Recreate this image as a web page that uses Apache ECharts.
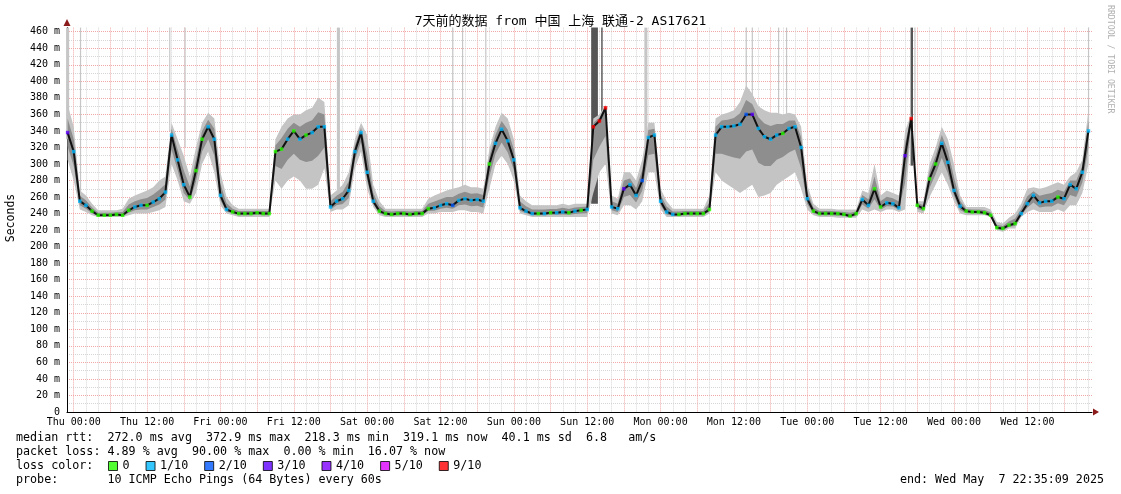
<!DOCTYPE html>
<html><head><meta charset="utf-8">
<script src="https://cdn.jsdelivr.net/npm/echarts@6/dist/echarts.min.js"></script>
<style>html,body{margin:0;padding:0;background:#fff}#c{width:1121px;height:494px}</style>
</head><body><div id="c"></div>
<script>
// hours relative to Thu 00:00 (May 1 2025); first sample at -1h
const firstHour = -1;
const median = [
338,315,255,250,243,238,238,238,239,238,244,
248,250,250,254,258,266,335,305,275,260,
292,330,345,330,262,245,242,240,240,240,
241,240,240,315,318,330,340,330,335,338,
345,345,248,255,258,268,315,338,290,255,
243,240,239,240,240,239,240,240,246,247,
250,252,250,256,258,256,257,255,300,325,
342,328,305,247,243,240,240,240,241,241,
242,241,243,244,245,345,352,368,248,246,
270,275,262,280,332,335,255,242,239,239,
240,240,240,240,245,335,345,345,346,348,
360,360,343,333,330,335,337,343,345,320,
258,243,240,240,240,240,239,237,240,257,
250,270,248,253,252,247,310,355,250,246,
282,300,325,302,268,249,243,242,242,241,
238,223,222,226,228,240,252,262,253,255,
255,260,258,275,270,290,340];
const smokeLo = [
305,280,245,242,238,236,236,236,236,236,238,
240,240,240,242,244,248,300,280,255,252,
265,300,315,290,250,240,238,236,236,236,
236,236,236,280,270,280,285,280,270,270,
275,295,242,245,245,250,295,315,270,248,
238,236,236,236,236,236,236,236,240,240,
242,242,242,244,244,242,242,240,270,300,
310,300,280,240,238,236,236,236,236,236,
236,236,236,236,236,265,290,300,240,238,
250,250,245,255,290,290,245,236,236,236,
236,236,236,236,240,290,280,275,270,265,
270,275,260,262,265,275,280,285,290,270,
245,238,236,236,236,235,235,235,235,245,
242,245,242,245,245,242,245,345,242,240,
260,275,290,275,255,240,238,238,238,238,
236,220,218,222,222,236,242,245,242,242,
242,245,242,250,250,265,300];
const smokeHi = [
372,345,268,262,252,244,244,244,244,246,258,
262,265,268,272,280,285,350,330,310,285,
320,350,362,355,290,260,250,246,246,246,
246,246,246,330,345,355,360,360,365,368,
380,375,262,268,275,290,330,350,335,275,
255,246,246,246,246,246,246,246,258,262,
265,268,270,272,275,272,272,270,318,345,
362,355,330,262,255,250,250,250,250,250,
252,250,252,252,252,355,360,372,262,258,
290,290,280,305,350,350,270,255,246,246,
246,246,246,246,262,355,360,362,365,375,
395,385,370,365,362,362,360,362,360,345,
275,252,246,246,246,245,245,245,245,268,
265,300,262,268,265,262,340,360,255,255,
300,320,345,330,300,262,248,248,248,248,
245,230,228,235,240,252,270,272,270,272,
275,278,275,285,290,305,365];
// loss class index into lossLabels
const lossClass = [
3,1,1,1,0,0,0,0,0,0,0,
1,1,0,1,1,1,1,1,1,0,
0,0,1,1,1,1,0,0,0,0,
0,0,0,0,0,1,0,1,0,1,
1,1,1,1,1,1,1,1,1,1,
0,0,0,0,0,0,0,0,0,1,
1,1,2,1,1,1,1,1,0,1,
1,1,1,1,1,1,0,1,0,1,
1,0,1,0,1,6,6,6,1,1,
3,1,1,2,1,1,1,1,1,0,
0,0,0,0,0,1,1,1,1,1,
2,3,1,1,1,1,0,1,1,1,
1,0,0,0,0,0,0,0,0,1,
1,0,0,1,1,1,3,6,0,0,
0,0,1,1,1,1,0,0,0,0,
0,0,0,0,0,1,1,1,1,1,
1,0,1,1,1,1,1];
const lossLabels = ['0','1/10','2/10','3/10','4/10','5/10','9/10'];
const lossColors = ['#26ff00','#00b8ff','#0059ff','#5e00ff','#7e00ff','#dd00ff','#ff0000'];
// tall outlier columns
const spikeHour = [-1.0, 1.1, 15.7, 18.2, 43.3, 62.0, 63.6, 67.4, 85.2, 86.4, 93.6, 110.0, 111.0, 115.3, 116.6, 137.1, 137.6, 166.0];
const spikeLo   = [330, 255, 340, 320, 250, 262, 270, 270, 252, 322, 318, 302, 302, 300, 300, 298, 300, 340];
const spikeHi   = [465, 465, 465, 465, 465, 465, 465, 465, 465, 465, 465, 465, 465, 465, 465, 465, 465, 465];
const spikeDur  = [0.5, 0.17, 0.17, 0.17, 0.5, 0.17, 0.17, 0.17, 1.1, 0.17, 0.5, 0.17, 0.17, 0.17, 0.17, 0.4, 0.17, 0.17];
const spikeLevel= [0, 0, 0, 0, 0, 0, 0, 0, 1, 2, 0, 0, 0, 0, 0, 1, 0, 0];
const xTickHours  = [0,12,24,36,48,60,72,84,96,108,120,132,144,156];
const xTickLabels = ['Thu 00:00','Thu 12:00','Fri 00:00','Fri 12:00','Sat 00:00','Sat 12:00','Sun 00:00','Sun 12:00','Mon 00:00','Mon 12:00','Tue 00:00','Tue 12:00','Wed 00:00','Wed 12:00'];
const xMin = -1.1, xMax = 166.58, yMin = 0, yMax = 465;

const MONO = "'DejaVu Sans Mono', monospace";
const RED = '#f2a8a8', GRAY = '#d6d6d6';
const spikeColors = ['#c6c6c6', '#555555', '#333333'];
const SMOKE_OUTER = '#c4c4c4', SMOKE_INNER = '#8e8e8e';

const hours = median.map((_, i) => firstHour + i);
const gridHours = []; for (let h = 0; h <= 166; h += 2) gridHours.push(h);
const ySplitColors = []; for (let v = 0; v <= 470; v += 10) ySplitColors.push((v % 20 === 0) ? RED : GRAY);

function bandPolygon(api, lowerAt, upperAt) {
  const pts = [];
  for (let i = 0; i < hours.length; i++) pts.push(api.coord([hours[i], lowerAt(i)]));
  for (let i = hours.length - 1; i >= 0; i--) pts.push(api.coord([hours[i], upperAt(i)]));
  return pts;
}

const series = [];
series.push({
  type: 'custom', name: 'spikes', z: 1, silent: true,
  data: spikeHour.map((h, i) => [h, spikeLo[i], spikeHi[i], spikeDur[i], spikeLevel[i]]),
  renderItem: (params, api) => {
    const h = api.value(0), lo = api.value(1), hi = api.value(2), d = api.value(3), lv = api.value(4);
    const p0 = api.coord([h - d / 2, hi]);
    const p1 = api.coord([h + d / 2, lo]);
    return { type: 'rect', shape: { x: p0[0], y: p0[1], width: Math.max(1.2, p1[0] - p0[0]), height: p1[1] - p0[1] },
      style: { fill: spikeColors[lv] } };
  }
});
// smoke: outer band (lo..hi) in light grey, core (half way to the median) darker
series.push({
  type: 'custom', name: 'smoke', z: 2, silent: true,
  data: [[0]],
  renderItem: (params, api) => ({
    type: 'group',
    children: [
      { type: 'polygon', shape: { points: bandPolygon(api, i => smokeLo[i], i => smokeHi[i]) }, style: { fill: SMOKE_OUTER } },
      { type: 'polygon', shape: { points: bandPolygon(api, i => (smokeLo[i] + median[i]) / 2, i => (smokeHi[i] + median[i]) / 2) }, style: { fill: SMOKE_INNER } }
    ]
  })
});
series.push({
  type: 'line', name: 'median', z: 3, silent: true, symbol: 'none',
  lineStyle: { color: '#111', width: 2 }, data: hours.map((h, i) => [h, median[i]])
});
lossLabels.forEach((name, k) => {
  series.push({
    type: 'scatter', name, z: 4, silent: true, symbol: 'rect', symbolSize: 3.5,
    itemStyle: { color: lossColors[k] },
    data: hours.map((h, i) => [h, median[i], lossClass[i]]).filter(d => d[2] === k).map(d => [d[0], d[1]])
  });
});

const chart = echarts.init(document.getElementById('c'), null, { renderer: 'canvas' });
chart.setOption({
  animation: false,
  backgroundColor: '#ffffff',
  title: { text: '7天前的数据 from 中国 上海 联通-2 AS17621', left: 'center', top: 15, padding: 0,
    textStyle: { fontFamily: "'DejaVu Sans Mono', 'Noto Sans CJK SC', monospace", fontSize: 13, fontWeight: 'normal', color: '#000' } },
  grid: { left: 67, right: 29, top: 27.6, bottom: 82, containLabel: false },
  legend: {
    left: 108, top: 460, orient: 'horizontal', itemWidth: 9, itemHeight: 9, itemGap: 16, selectedMode: false, padding: 0,
    textStyle: { fontFamily: MONO, fontSize: 11.7, color: '#000' },
    data: lossLabels.map(n => ({ name: n, icon: 'rect', itemStyle: { borderColor: '#000', borderWidth: 1 } }))
  },
  xAxis: {
    type: 'value', min: xMin, max: xMax,
    axisLine: { show: true, onZero: false, lineStyle: { color: '#000', width: 1 } },
    axisTick: { show: false, customValues: gridHours },
    axisLabel: { customValues: xTickHours, margin: 5, fontFamily: MONO, fontSize: 10, color: '#000',
      formatter: v => { const i = xTickHours.indexOf(v); return i >= 0 ? xTickLabels[i] : ''; } },
    splitLine: { show: true, lineStyle: { color: [RED, GRAY, GRAY], width: 1, type: [1, 1] } }
  },
  yAxis: {
    type: 'value', min: yMin, max: yMax, interval: 10,
    axisLine: { show: true, onZero: false, lineStyle: { color: '#000', width: 1 } },
    axisTick: { show: false },
    axisLabel: { margin: 7, fontFamily: MONO, fontSize: 10, color: '#000', showMaxLabel: false,
      formatter: v => (v % 20 === 0 && v <= 460) ? (v === 0 ? '0' : v + ' m') : '' },
    splitLine: { show: true, showMaxLine: false, lineStyle: { color: ySplitColors, width: 1, type: [1, 1] } }
  },
  graphic: [
    { type: 'polygon', shape: { points: [[63.5, 26], [70.5, 26], [67, 19]] }, style: { fill: '#8b1a1a' }, z: 10 },
    { type: 'polygon', shape: { points: [[1093, 408.5], [1093, 415.5], [1099, 412]] }, style: { fill: '#8b1a1a' }, z: 10 },
    { type: 'text', x: 11, y: 218, rotation: Math.PI / 2, style: { text: 'Seconds', font: "11.5px 'DejaVu Sans Mono'", fill: '#000', textAlign: 'center', textVerticalAlign: 'middle' } },
    { type: 'text', x: 1110, y: 5, rotation: -Math.PI / 2, style: { text: 'RRDTOOL / TOBI OETIKER', font: "8.2px 'DejaVu Sans Mono'", fill: '#b0b0b0', textAlign: 'left', textVerticalAlign: 'middle' } },
    { type: 'text', x: 16, y: 438, style: { text: 'median rtt:  272.0 ms avg  372.9 ms max  218.3 ms min  319.1 ms now  40.1 ms sd  6.8   am/s', font: "11.7px 'DejaVu Sans Mono'", fill: '#000', textVerticalAlign: 'middle' } },
    { type: 'text', x: 16, y: 452, style: { text: 'packet loss: 4.89 % avg  90.00 % max  0.00 % min  16.07 % now', font: "11.7px 'DejaVu Sans Mono'", fill: '#000', textVerticalAlign: 'middle' } },
    { type: 'text', x: 16, y: 466, style: { text: 'loss color:', font: "11.7px 'DejaVu Sans Mono'", fill: '#000', textVerticalAlign: 'middle' } },
    { type: 'text', x: 16, y: 480, style: { text: 'probe:       10 ICMP Echo Pings (64 Bytes) every 60s', font: "11.7px 'DejaVu Sans Mono'", fill: '#000', textVerticalAlign: 'middle' } },
    { type: 'text', x: 1104, y: 480, style: { text: 'end: Wed May  7 22:35:09 2025', font: "11.7px 'DejaVu Sans Mono'", fill: '#000', textAlign: 'right', textVerticalAlign: 'middle' } }
  ],
  series
});
</script></body></html>
